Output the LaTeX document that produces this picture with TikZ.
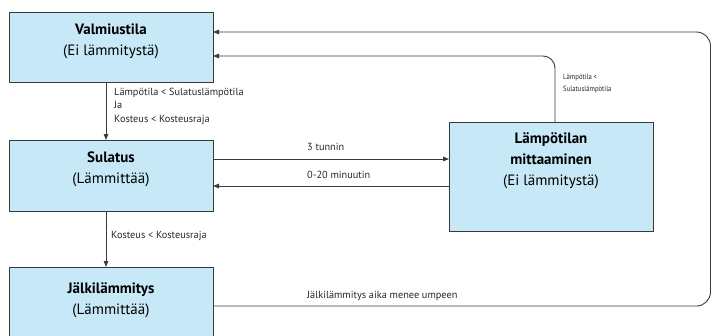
\documentclass[tikz,border=0pt]{standalone}
\usepackage{fontspec}
\setmainfont{PT Sans}
\newfontfamily\condfont[FakeStretch=0.88]{PT Sans}
\usetikzlibrary{arrows.meta}
\definecolor{boxfill}{HTML}{C6E8F7}
\definecolor{linegray}{HTML}{3A3A3A}
\tikzset{
  statebox/.style={draw=linegray, line width=1.3pt, fill=boxfill, rectangle, anchor=north west, inner sep=0pt},
  titletext/.style={anchor=north, align=center, font=\fontsize{15}{21}\selectfont, inner sep=0pt},
  conn/.style={draw=linegray, line width=0.9pt},
  arr/.style={conn, -{Triangle[length=6pt,width=4.5pt]}},
  lbl/.style={font=\fontsize{10.3}{13.5}\selectfont, anchor=west, inner sep=0pt, align=left, text=black!85},
  smalllbl/.style={font=\condfont\fontsize{7.6}{12.5}\selectfont, anchor=west, inner sep=0pt, align=left, text=black!85},
}
\begin{document}
\begin{tikzpicture}[x=1pt,y=-1pt]
\useasboundingbox (0,0) rectangle (712,335);
\begin{scope}
\clip (0,0) rectangle (712,335);
% boxes
\node[statebox, minimum width=204pt, minimum height=70pt] (v) at (9,12) {};
\node[statebox, minimum width=204pt, minimum height=71pt] (s) at (9,140) {};
\node[statebox, minimum width=204pt, minimum height=80pt] (j) at (9,267) {};
\node[statebox, minimum width=204pt, minimum height=109pt] (m) at (449,122) {};
\end{scope}
% box texts
\node[titletext] (vt) at (111,24) {\textbf{Valmiustila}\\(Ei lämmitystä)};
\node[titletext] (st) at (111,152) {\textbf{Sulatus}\\(Lämmittää)};
\node[titletext] (jt) at (111,282) {\textbf{Jälkilämmitys}\\(Lämmittää)};
\node[titletext] (mt) at (551,132) {\textbf{Lämpötilan}\\\textbf{mittaaminen}\\(Ei lämmitystä)};
% coordinates
\coordinate (vin1) at (213,32);
\coordinate (vin2) at (213,56);
\coordinate (sout) at (213,159);
\coordinate (min) at (449,159);
\coordinate (mout) at (449,186);
\coordinate (sin) at (213,186);
\coordinate (jout) at (213,306);
\coordinate (mtop) at (555,122);
% connectors
\draw[arr] (v.south -| 106,0) -- (s.north -| 106,0);
\draw[arr] (s.south -| 106,0) -- (j.north -| 106,0);
\draw[arr] (sout) -- (min);
\draw[arr] (mout) -- (sin);
\draw[arr, rounded corners=12pt] (mtop) -- (555,56) -- (vin2);
\draw[arr, rounded corners=14pt] (jout) -- (710.5,306) -- (710.5,32) -- (vin1);
% labels
\node[lbl] (l1) at (114,106) {Lämpötila < Sulatuslämpötila\\Ja\\Kosteus < Kosteusraja};
\node[lbl] (l2) at (111,236) {Kosteus < Kosteusraja};
\node[lbl] (l3) at (307,147) {3 tunnin};
\node[lbl] (l4) at (307,175) {0-20 minuutin};
\node[lbl] (l5) at (307,296) {Jälkilämmitys aika menee umpeen};
\node[smalllbl] (l6) at (563,83.5) {Lämpötila <\\Sulatuslämpötila};
\end{tikzpicture}
\end{document}
